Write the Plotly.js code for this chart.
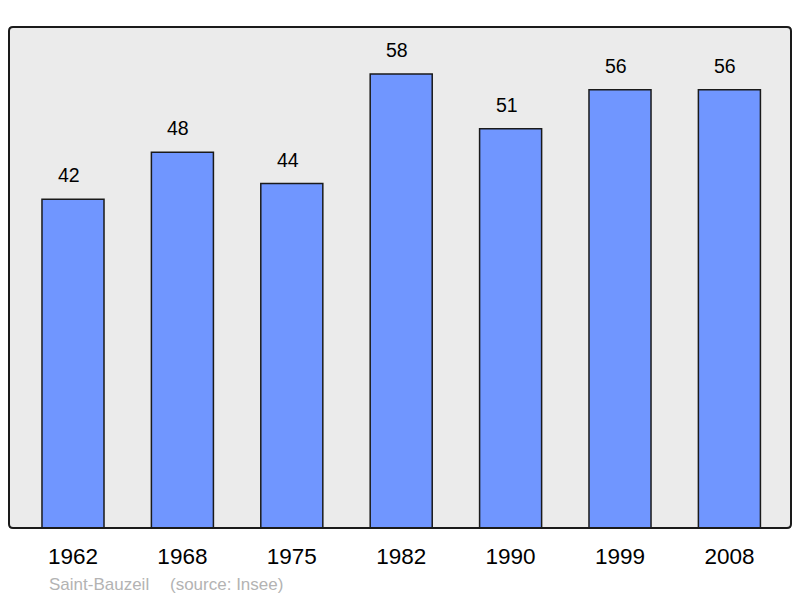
<!DOCTYPE html>
<html><head><meta charset="utf-8">
<script src="https://cdn.plot.ly/plotly-3.0.1.min.js"></script>
<style>body{margin:0;background:#fff}#c{width:800px;height:598px}</style>
</head><body><div id="c"></div>
<script>
const years = ['1962','1968','1975','1982','1990','1999','2008'];
const population = [42,48,44,58,51,56,56];
const commune = 'Saint-Bauzeil';
const source = '(source: Insee)';

const rx = 4/782, ry = 4/501;
const framePath = `M ${rx} 0 L ${1-rx} 0 Q 1 0 1 ${ry} L 1 ${1-ry} Q 1 1 ${1-rx} 1 L ${rx} 1 Q 0 1 0 ${1-ry} L 0 ${ry} Q 0 0 ${rx} 0 Z`;

const annotations = years.map((y,i)=>({
  x: i, y: population[i], xref:'x', yref:'y', text: String(population[i]),
  showarrow:false, yanchor:'bottom', yshift:11, xshift:-4,
  font:{family:'Liberation Sans, Arial, sans-serif', size:19.5, color:'#000'}
}));
annotations.push({xref:'paper', yref:'paper', x:(47-9)/782, y:(528-584)/501, xanchor:'left', yanchor:'middle',
  text: commune, showarrow:false, font:{family:'Liberation Sans, Arial, sans-serif', size:17, color:'#b3b3b3'}});
annotations.push({xref:'paper', yref:'paper', x:(168-9)/782, y:(528-584)/501, xanchor:'left', yanchor:'middle',
  text: source, showarrow:false, font:{family:'Liberation Sans, Arial, sans-serif', size:17, color:'#b3b3b3'}});

Plotly.newPlot('c', [{
  type:'bar', x: years, y: population, width:0.567,
  marker:{color:'#7096ff', line:{color:'#1a1a1a', width:1.5}},
  hoverinfo:'skip'
}], {
  width:800, height:598,
  margin:{l:9, r:9, t:27, b:70, pad:0},
  paper_bgcolor:'#ffffff', plot_bgcolor:'#ebebeb',
  showlegend:false,
  xaxis:{type:'category', range:[-0.585, 6.563], showgrid:false, zeroline:false, showline:false,
    ticks:'', ticklabelstandoff:12,
    tickfont:{family:'Liberation Sans, Arial, sans-serif', size:22.5, color:'#000'}, fixedrange:true},
  yaxis:{range:[0,64], showgrid:false, zeroline:false, showline:false, showticklabels:false, ticks:'', fixedrange:true},
  shapes:[{type:'path', xref:'paper', yref:'paper', path: framePath, line:{color:'#1a1a1a', width:2}, fillcolor:'rgba(0,0,0,0)', layer:'above'}],
  annotations
}, {staticPlot:true});
</script></body></html>
